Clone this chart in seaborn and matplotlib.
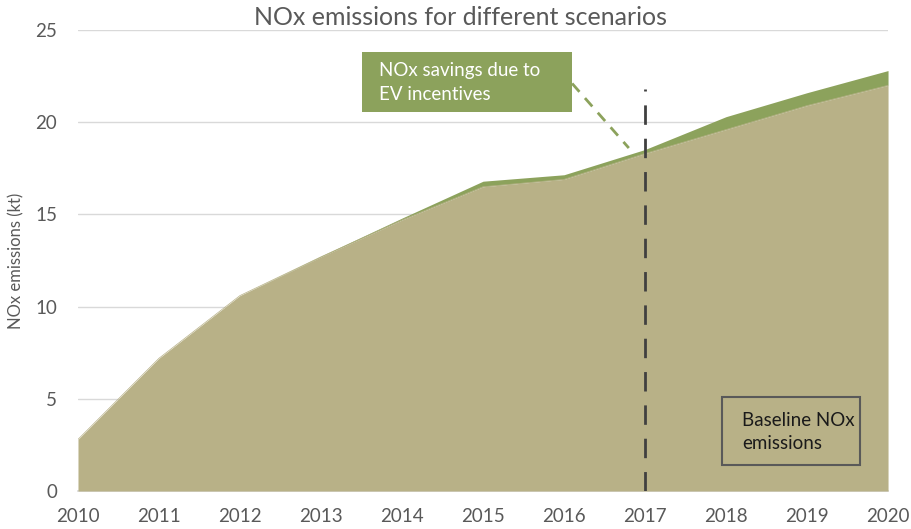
import matplotlib
matplotlib.use("Agg")
import matplotlib.pyplot as plt
import seaborn as sns
import pandas as pd
from matplotlib.patches import Rectangle

years = [2010, 2011, 2012, 2013, 2014, 2015, 2016, 2017, 2018, 2019, 2020]
baseline = [2.8, 7.2, 10.6, 12.7, 14.7, 16.5, 16.9, 18.3, 19.6, 20.9, 22.0]
savings = [0.0, 0.0, 0.0, 0.04, 0.1, 0.3, 0.25, 0.22, 0.7, 0.7, 0.8]
y_ticks = [0, 5, 10, 15, 20, 25]

df = pd.DataFrame({"year": years, "baseline": baseline, "savings": savings})
df["with_savings"] = df["baseline"] + df["savings"]

sns.set_theme(style="white")
plt.rcParams["font.family"] = ["Lato", "DejaVu Sans"]

fig = plt.figure(figsize=(9.11, 5.29), dpi=100)
ax = fig.add_axes([0.0856, 0.0718, 0.8892, 0.8715])

tan = "#B8B187"
green = "#8CA25C"

ax.fill_between(df["year"], df["baseline"], df["with_savings"], color=green, lw=0, zorder=2)
ax.fill_between(df["year"], 0, df["baseline"], color=tan, lw=0, zorder=3)
sns.lineplot(data=df, x="year", y="baseline", color=tan, lw=0.5, ax=ax, zorder=3)

ax.set_xlim(2010, 2020)
ax.set_ylim(0, 25)
ax.set_yticks(y_ticks)
ax.set_xticks(years)
ax.set_xticklabels([str(y) for y in years])
ax.yaxis.grid(True, color="#D9D9D9", lw=1)
ax.set_axisbelow(True)
for s in ["top", "right", "left"]:
    ax.spines[s].set_visible(False)
ax.spines["bottom"].set_color("#D9D9D9")
ax.tick_params(axis="both", colors="#595959", labelsize=13.5, length=0)
ax.tick_params(axis="x", pad=12)
ax.tick_params(axis="y", pad=15)
ax.set_xlabel("")
ax.set_ylabel("NOx emissions (kt)", color="#595959", fontsize=12, labelpad=8)

fig.text(0.505, 0.966, "NOx emissions for different scenarios", ha="center", va="center",
         fontsize=18, color="#595959")

# vertical dashed line at 2017
ax.plot([2017, 2017], [0, 21.8], color="#404040", lw=2, ls=(0, (7, 5)), zorder=5)

# green annotation box
ax.add_patch(Rectangle((2013.5, 20.55), 2.6, 3.25, facecolor=green, edgecolor="none", zorder=6, clip_on=False))
ax.text(2013.72, 22.15, "NOx savings due to\nEV incentives", color="white", fontsize=13.5,
        va="center", ha="left", zorder=7, linespacing=1.45)
ax.plot([2016.1, 2016.8], [22.1, 18.6], color=green, lw=2, ls=(0, (4, 3)), zorder=6)

# baseline box
ax.add_patch(Rectangle((2017.95, 1.4), 1.7, 3.7, facecolor="none", edgecolor="#595959", lw=1.5, zorder=6))
ax.text(2018.2, 3.2, "Baseline NOx\nemissions", color="#1a1a1a", fontsize=13.5,
        va="center", ha="left", zorder=7, linespacing=1.45)

fig.savefig("out.png", dpi=100)
